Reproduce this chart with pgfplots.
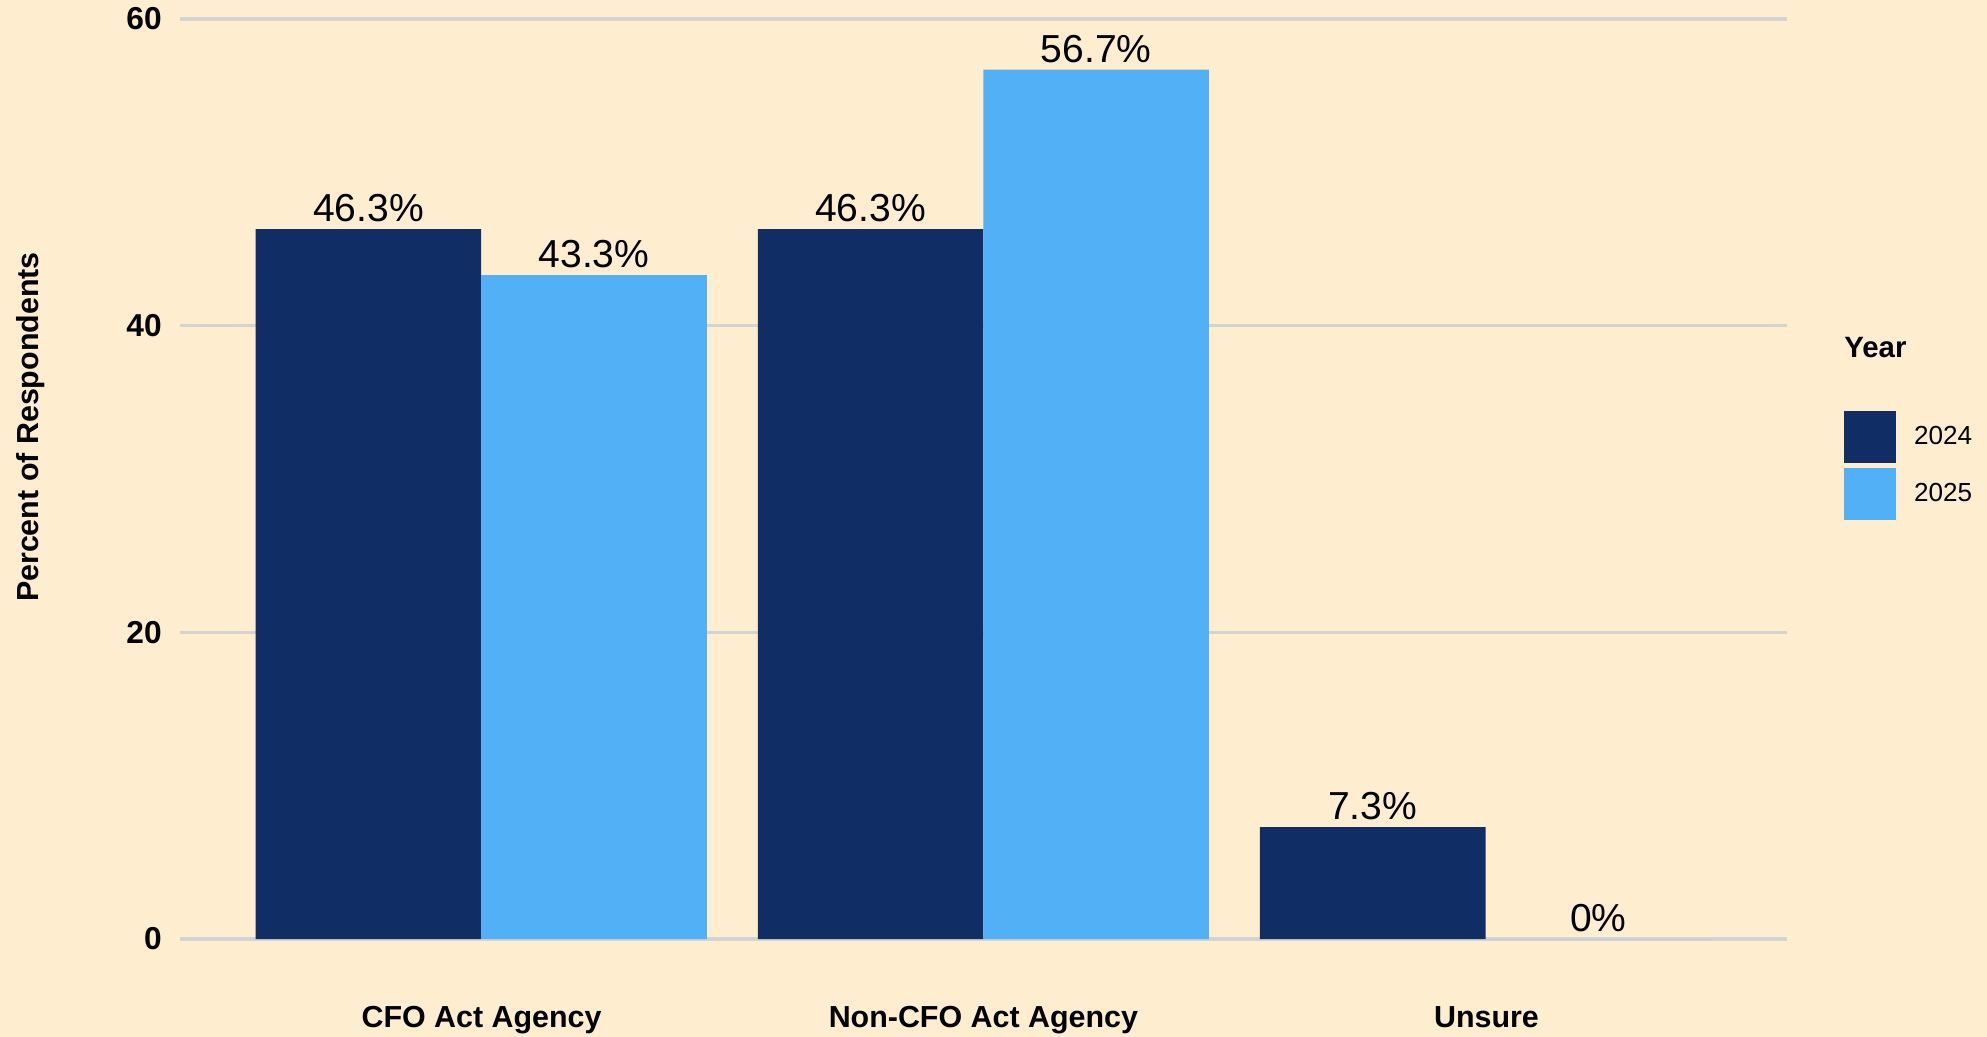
\documentclass[border=0pt]{standalone}
\usepackage{fontspec}
\setmainfont{Liberation Sans}
\usepackage{pgfplots}
\pgfplotsset{compat=1.18}
\usetikzlibrary{backgrounds}
\definecolor{cream}{HTML}{FFEDCF}
\definecolor{navy}{HTML}{112D66}
\definecolor{sky}{HTML}{52B1F6}
\definecolor{gridc}{HTML}{D3D3D3}

\begin{document}
\begin{tikzpicture}[x=0.5pt,y=0.5pt]
% whole picture frame, in shown-pixel units, origin at the plot's lower-left
\begin{scope}[on background layer]
  \fill[cream] (-142,-77) rectangle (1426,741);
\end{scope}
\useasboundingbox (-142,-77) rectangle (1426,741);
\begin{axis}[
  at={(0,0)}, anchor=south west,
  scale only axis,
  width=634pt, height=363pt,
  xmin=-0.6, xmax=2.6,
  ymin=0, ymax=60,
  axis line style={draw=none},
  tick style={draw=none},
  ybar=0pt,
  bar width=89pt,
  xtick=\empty,
  ytick={0,20,40,60},
  yticklabels={},
  ymajorgrids,
  grid style={draw=gridc,line width=1.2pt},
  clip=false,
  /pgf/number format/assume math mode=true,
  nodes near coords={\pgfmathprintnumber[fixed,precision=1]{\pgfplotspointmeta}\%},
  nodes near coords style={font=\fontsize{15.4}{17}\selectfont,anchor=south,inner sep=2.5pt,text=black},
  legend style={at={(1.0355,0.5745)},anchor=north west,draw=none,fill=none,inner sep=0pt,
    font=\fontsize{10.3}{12}\selectfont,row sep=2pt,
    nodes={inner sep=0pt,anchor=west}},
  legend image code/.code={\fill[#1] (0,-10.25pt) rectangle (20.5pt,10.25pt);},
  legend cell align=left,
]
\addplot[fill=navy,draw=none] coordinates {(0,46.3) (1,46.3) (2,7.3)};
\addplot[fill=sky,draw=none] coordinates {(0,43.3) (1,56.7) (2,0)};
\legend{\hspace{7pt}2024,\hspace{7pt}2025}
\end{axis}
% tick labels
\foreach \v/\yy in {0/0,20/242,40/484,60/726}
  \node[anchor=east,inner sep=0pt,font=\fontsize{12.5}{14}\selectfont\bfseries] at (-14,\yy) {\v};
\foreach \lab/\xx in {CFO Act Agency/238,Non-CFO Act Agency/634,Unsure/1031}
  \node[anchor=base,font=\fontsize{12}{14}\selectfont\bfseries] at (\xx,-70) {\lab};
\node[rotate=90,font=\fontsize{12}{14}\selectfont\bfseries] at (-118,404) {Percent of Respondents};
\node[anchor=west,inner sep=0pt,font=\fontsize{11.6}{13}\selectfont\bfseries] at (1313,467) {Year};
\end{tikzpicture}
\end{document}
